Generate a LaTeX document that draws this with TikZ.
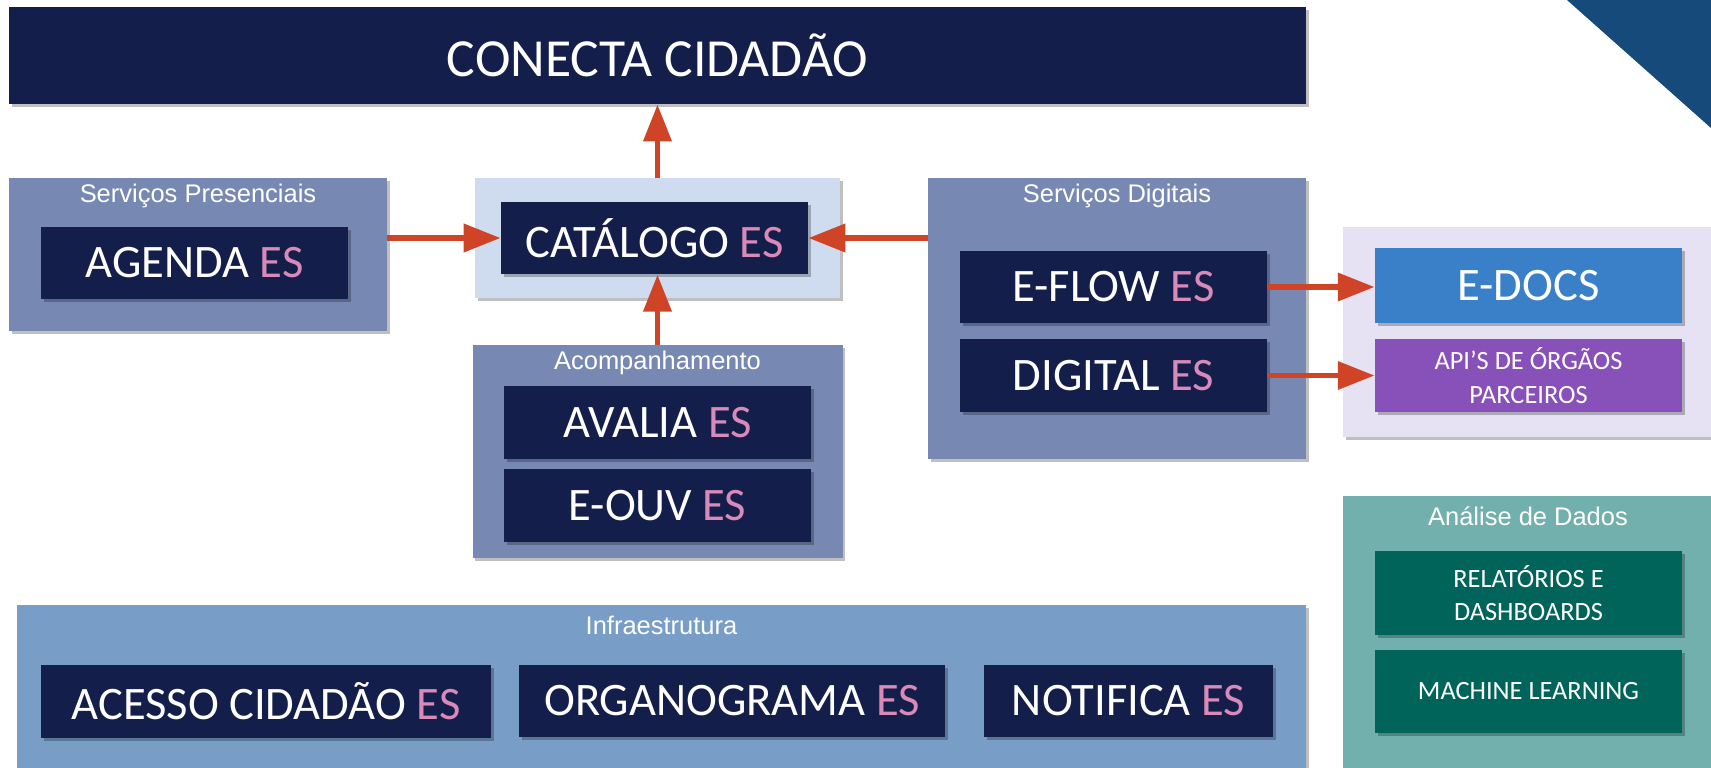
\documentclass[tikz,border=0pt]{standalone}
\usepackage{fontspec}
\setmainfont{Carlito}
\newfontfamily\titlefont{Liberation Sans}
\usetikzlibrary{arrows.meta,shadows}

\definecolor{navy}{HTML}{141E4B}
\definecolor{grpblue}{HTML}{7789B2}
\definecolor{catlight}{HTML}{CFDCEF}
\definecolor{infrablue}{HTML}{789EC8}
\definecolor{lavender}{HTML}{E6E2F3}
\definecolor{teal}{HTML}{72B0AE}
\definecolor{darkteal}{HTML}{00645A}
\definecolor{edocsblue}{HTML}{3A80C9}
\definecolor{apipurple}{HTML}{8851B9}
\definecolor{espink}{HTML}{D98AB8}
\definecolor{arrowred}{HTML}{CF4327}
\definecolor{cornerblue}{HTML}{154A7B}

\newcommand{\es}{\textcolor{espink}{ES}}

\begin{document}
\begin{tikzpicture}[
  shade/.style = {drop shadow={shadow xshift=1.6pt, shadow yshift=-1.6pt, opacity=.25, fill=black}},
  grp/.style = {rectangle, inner sep=0pt, shade},
  sys/.style = {rectangle, fill=navy, inner sep=0pt, text=white, font=\fontsize{26.5}{30}\selectfont, shade, minimum width=6.14cm, minimum height=1.45cm},
  ext/.style = {rectangle, inner sep=0pt, text=white, shade, minimum width=6.14cm, align=center},
  grptitle/.style = {text=white, inner sep=0pt, font=\titlefont\fontsize{14.5}{17}\selectfont},
  arr/.style = {-{Triangle[length=21pt, width=15.5pt]}, line width=3.4pt, draw=arrowred}
]
\useasboundingbox (0,0) rectangle (34.22,-15.36);

\fill[cornerblue] (31.34,0) -- (34.22,0) -- (34.22,-2.56) -- cycle;

% top
\node[sys, minimum width=25.94cm, minimum height=1.94cm, font=\fontsize{30.5}{34}\selectfont] (conecta) at (13.15,-1.11) {CONECTA CIDADÃO};

% groups
\node[grp, fill=grpblue, minimum width=7.56cm, minimum height=3.06cm] (pres) at (3.96,-5.09) {};
\node[grp, fill=catlight, minimum width=7.30cm, minimum height=2.40cm] (catbg) at (13.15,-4.76) {};
\node[grp, fill=grpblue, minimum width=7.40cm, minimum height=4.26cm] (acomp) at (13.15,-9.03) {};
\node[grp, fill=grpblue, minimum width=7.56cm, minimum height=5.62cm] (digi) at (22.34,-6.37) {};
\node[grp, fill=lavender, minimum width=7.40cm, minimum height=4.20cm] (parc) at (30.56,-6.64) {};
\node[grp, fill=teal, minimum width=7.40cm, minimum height=5.50cm] (dados) at (30.56,-12.67) {};
\node[grp, fill=infrablue, minimum width=25.78cm, minimum height=3.32cm] (infra) at (13.23,-13.76) {};

\node[grptitle] (presT) at (3.96,-3.92) {Serviços Presenciais};
\node[grptitle] (acompT) at (13.15,-7.26) {Acompanhamento};
\node[grptitle] (digiT) at (22.34,-3.92) {Serviços Digitais};
\node[grptitle] (dadosT) at (30.56,-10.32) {Análise de Dados};
\node[grptitle] (infraT) at (13.23,-12.50) {Infraestrutura};

% systems
\node[sys] (agenda) at (3.89,-5.26) {AGENDA \es};
\node[sys] (cat) at (13.09,-4.76) {CATÁLOGO \es};
\node[sys] (avalia) at (13.15,-8.45) {AVALIA \es};
\node[sys] (eouv) at (13.15,-10.11) {E-OUV \es};
\node[sys] (eflow) at (22.27,-5.74) {E-FLOW \es};
\node[sys] (digital) at (22.27,-7.51) {DIGITAL \es};
\node[sys, minimum width=9.00cm] (acesso) at (5.32,-14.03) {ACESSO CIDADÃO \es};
\node[sys, minimum width=8.52cm] (organo) at (14.64,-14.02) {ORGANOGRAMA \es};
\node[sys, minimum width=5.78cm] (notif) at (22.57,-14.02) {NOTIFICA \es};

\node[ext, fill=edocsblue, minimum height=1.50cm, font=\fontsize{26.5}{30}\selectfont] (edocs) at (30.57,-5.71) {E-DOCS};
\node[ext, fill=apipurple, minimum height=1.46cm, font=\fontsize{15}{19}\selectfont] (api) at (30.57,-7.51) {API’S DE ÓRGÃOS\\PARCEIROS};
\node[ext, fill=darkteal, minimum height=1.68cm, font=\fontsize{15}{19}\selectfont] (rel) at (30.57,-11.86) {RELATÓRIOS E\\DASHBOARDS};
\node[ext, fill=darkteal, minimum height=1.66cm, font=\fontsize{15}{19}\selectfont] (ml) at (30.57,-13.83) {MACHINE LEARNING};

% arrows
\draw[arr] (catbg.north) -- (catbg.north |- conecta.south);
\draw[arr] (pres.east |- cat) -- (cat.west);
\draw[arr] (digi.west |- cat) -- (cat.east);
\draw[arr] (acomp.north) -- (acomp.north |- cat.south);
\draw[arr] (eflow.east) -- (eflow.east -| edocs.west);
\draw[arr] (digital.east) -- (digital.east -| api.west);
\end{tikzpicture}
\end{document}
